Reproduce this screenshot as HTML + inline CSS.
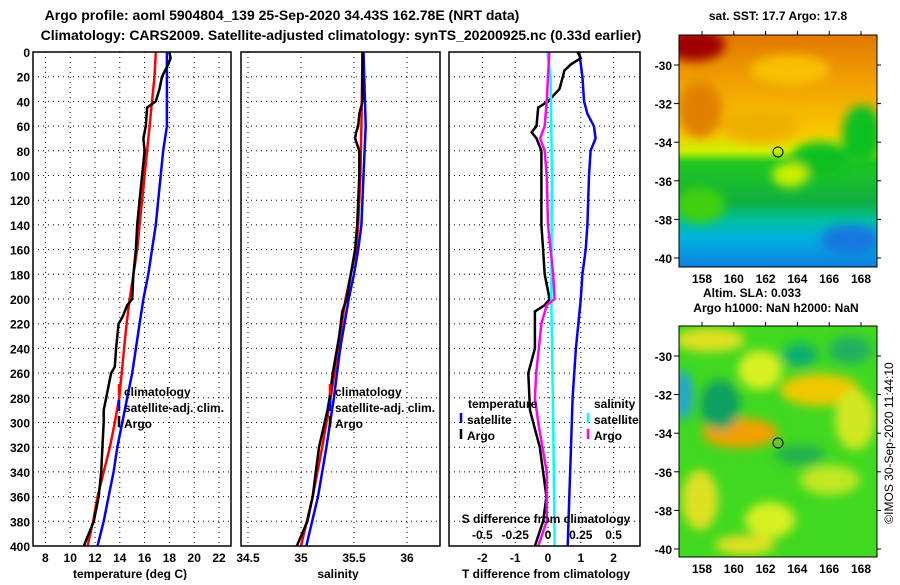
<!DOCTYPE html>
<html><head><meta charset="utf-8"><style>
body{margin:0;background:#fff;width:900px;height:580px;overflow:hidden}
svg text{font-family:"Liberation Sans",sans-serif;font-weight:bold;font-size:12px;fill:#000}
</style></head><body>
<svg id="c" width="900" height="580" xmlns="http://www.w3.org/2000/svg">
<defs>
<linearGradient id="sstg" x1="0" y1="0" x2="0" y2="1">
<stop offset="0" stop-color="#e07800"/><stop offset="0.2" stop-color="#f0a000"/><stop offset="0.42" stop-color="#f8c800"/><stop offset="0.5" stop-color="#d0f000"/><stop offset="0.55" stop-color="#20c820"/><stop offset="0.72" stop-color="#10b040"/><stop offset="0.8" stop-color="#00c0a0"/><stop offset="0.88" stop-color="#00b0e0"/><stop offset="1" stop-color="#1080e0"/>
</linearGradient>
<filter id="bl"><feGaussianBlur stdDeviation="5"/></filter>
<clipPath id="m1"><rect x="679" y="35" width="198" height="232"/></clipPath>
<clipPath id="m2"><rect x="679" y="326" width="198" height="231"/></clipPath>
</defs>
<g id="titles">
<text x="282" y="20" text-anchor="middle" style="font-size:14px">Argo profile: aoml 5904804_139 25-Sep-2020 34.43S 162.78E (NRT data)</text>
<text x="341" y="40" text-anchor="middle" style="font-size:14px">Climatology: CARS2009. Satellite-adjusted climatology: synTS_20200925.nc (0.33d earlier)</text>
<text x="778" y="20" text-anchor="middle">sat. SST: 17.7 Argo: 17.8</text>
<text x="752" y="297" text-anchor="middle">Altim. SLA: 0.033</text>
<text x="776" y="312" text-anchor="middle">Argo h1000: NaN h2000: NaN</text>
<text transform="translate(893,443) rotate(-90)" text-anchor="middle" style="font-weight:normal">©IMOS 30-Sep-2020 11:44:10</text>
</g>
<g id="maps">
<g clip-path="url(#m1)">
<rect x="679" y="35" width="198" height="232" fill="url(#sstg)"/>
<g filter="url(#bl)">
<ellipse cx="695" cy="45" rx="30" ry="16" fill="#a00000"/>
<ellipse cx="700" cy="110" rx="22" ry="28" fill="#e08000"/>
<ellipse cx="760" cy="125" rx="40" ry="18" fill="#f0b000"/>
<ellipse cx="790" cy="70" rx="40" ry="15" fill="#f8c000"/>
<ellipse cx="862" cy="135" rx="20" ry="30" fill="#10c020"/>
<ellipse cx="820" cy="160" rx="30" ry="18" fill="#10c020"/>
<ellipse cx="700" cy="205" rx="25" ry="18" fill="#40d010"/>
<ellipse cx="790" cy="175" rx="18" ry="12" fill="#c8f000"/>
<ellipse cx="850" cy="240" rx="30" ry="15" fill="#1878e0"/>
</g>
<circle cx="778" cy="152" r="5" fill="none" stroke="#000"/>
</g>
<rect x="679" y="35" width="198" height="232" fill="none" stroke="#000"/>
<g clip-path="url(#m2)">
<rect x="679" y="326" width="198" height="231" fill="#40d820"/>
<g filter="url(#bl)">
<ellipse cx="710" cy="340" rx="35" ry="12" fill="#e0e020"/>
<ellipse cx="760" cy="370" rx="22" ry="20" fill="#d8f020"/>
<ellipse cx="800" cy="355" rx="18" ry="12" fill="#10b070"/>
<ellipse cx="850" cy="350" rx="22" ry="14" fill="#20b060"/>
<ellipse cx="820" cy="390" rx="40" ry="16" fill="#f0c800"/>
<ellipse cx="740" cy="433" rx="38" ry="15" fill="#f0a000"/>
<ellipse cx="684" cy="395" rx="8" ry="25" fill="#20a0e0"/>
<ellipse cx="720" cy="405" rx="20" ry="25" fill="#10a060"/>
<ellipse cx="855" cy="420" rx="20" ry="30" fill="#d0e820"/>
<ellipse cx="700" cy="500" rx="18" ry="30" fill="#e0e020"/>
<ellipse cx="770" cy="520" rx="25" ry="18" fill="#d8f020"/>
<ellipse cx="830" cy="480" rx="30" ry="15" fill="#c0e820"/>
<ellipse cx="745" cy="545" rx="30" ry="10" fill="#e0e020"/>
<ellipse cx="800" cy="455" rx="25" ry="10" fill="#20b050"/>
</g>
<circle cx="778" cy="443" r="5" fill="none" stroke="#000"/>
</g>
<rect x="679" y="326" width="198" height="231" fill="none" stroke="#000"/>
</g>
<g id="plots"></g>
</svg>
<script>
// depth grid
const depthTicks=[0,20,40,60,80,100,120,140,160,180,200,220,240,260,280,300,320,340,360,380,400];
// temperature panel
const tTicks=[8,10,12,14,16,18,20,22];
const climDepth=[0,20,40,60,80,100,120,140,160,180,200,220,240,260,280,300,320,340,360,380,400];
const climTemp=[16.9,16.8,16.6,16.4,16.2,16.0,15.8,15.6,15.4,15.1,14.8,14.55,14.35,14.15,13.95,13.6,13.2,12.7,12.2,11.85,11.4];
const satDepth=[0,60,80,100,120,140,160,180,200,220,240,260,280,300,320,340,360,380,400];
const satTemp=[17.8,17.8,17.5,17.3,17.1,16.9,16.6,16.3,15.9,15.6,15.3,15.0,14.6,14.2,13.8,13.5,13.1,12.7,12.2];
const argoDepth=[0,5,10,20,30,40,45,60,70,80,100,120,140,160,180,200,205,215,220,240,255,260,280,290,300,320,340,360,380,390,400];
const argoTemp=[18.0,18.1,17.9,17.4,17.2,16.9,16.2,16.1,15.9,16.0,15.8,15.6,15.4,15.3,15.1,15.0,14.6,14.2,13.9,13.7,13.6,13.3,12.9,12.7,12.7,12.6,12.5,12.3,11.9,11.5,11.1];
// salinity panel
const sTicks=[34.5,35,35.5,36];
const sDepth=[0,60,100,140,160,180,200,240,280,320,360,400];
const climSal=[35.58,35.57,35.56,35.54,35.52,35.47,35.42,35.35,35.28,35.2,35.11,35.0];
const satSal=[35.59,35.61,35.59,35.57,35.54,35.50,35.45,35.37,35.31,35.24,35.16,35.05];
const argoSDepth=[0,40,50,60,65,70,75,80,100,140,160,180,200,210,230,260,280,290,320,340,360,380,400];
const argoSal=[35.58,35.58,35.55,35.54,35.52,35.51,35.53,35.55,35.55,35.53,35.51,35.47,35.43,35.39,35.36,35.3,35.27,35.25,35.17,35.14,35.11,35.06,34.96];
// difference panel
const dTTicks=[-2,-1,0,1,2];
const dSTicks=[-0.5,-0.25,0,0.25,0.5];
const dSTickLabels=["-0.5","-0.25","0","0.25","0.5"];
const satDTDepth=[0,10,20,40,50,60,70,80,100,140,160,180,200,240,280,320,360,400];
const satDT=[0.95,1.0,1.05,1.1,1.2,1.4,1.45,1.3,1.25,1.2,1.15,1.05,1.0,0.85,0.75,0.7,0.65,0.6];
const argoDTDepth=[0,5,10,15,20,30,40,45,60,65,70,80,100,140,160,180,200,205,210,240,260,290,300,320,340,360,380,400];
const argoDT=[0.9,1.0,0.7,0.5,0.45,0.35,0.0,-0.3,-0.35,-0.5,-0.35,-0.2,-0.2,-0.2,-0.15,-0.1,0.05,-0.1,-0.4,-0.4,-0.6,-0.55,-0.45,-0.25,-0.15,-0.05,-0.15,-0.4];
const satDSDepth=[0,20,100,200,300,400];
const satDS=[-0.005,0.02,0.03,0.025,0.04,0.05];
const argoDSDepth=[0,40,60,70,80,100,140,180,200,205,220,260,280,300,340,380,400];
const argoDS=[0.01,-0.01,-0.025,-0.06,-0.025,-0.01,0,0.04,0.05,-0.01,-0.05,-0.09,-0.1,-0.075,-0.01,-0.01,-0.075];

const NS='http://www.w3.org/2000/svg';
const root=document.getElementById('plots');
const Y0=52,Y1=546;
const yS=d=>Y0+d*(Y1-Y0)/400;
const xT=t=>33+(t-7)*12.4;
const xS=s=>301+(s-35)*106;
const xDT=t=>548+t*32.8;
const xDS=s=>548+s*4*32.8;
function el(tag,attrs,parent){const e=document.createElementNS(NS,tag);for(const k in attrs)e.setAttribute(k,attrs[k]);(parent||root).appendChild(e);return e;}
function txt(x,y,s,anchor,parent){const t=el('text',{x:x,y:y,'text-anchor':anchor||'start'},parent);t.textContent=s;return t;}
function line(depths,vals,xf,color,name,g){
  const pts=depths.map((d,i)=>xf(vals[i]).toFixed(1)+','+yS(d).toFixed(1)).join(' ');
  const p=el('polyline',{points:pts,fill:'none',stroke:color,'stroke-width':2.5},g);
  
  
}
function panel(x0,x1,ticks,xf,name){
  const g=el('g',{});
  
  
  ticks.forEach(t=>el('line',{x1:xf(t),x2:xf(t),y1:Y0,y2:Y1,stroke:'#000','stroke-dasharray':'1,4'},g));
  depthTicks.forEach(d=>el('line',{x1:x0,x2:x1,y1:yS(d),y2:yS(d),stroke:'#000','stroke-dasharray':'1,4'},g));
  return g;
}
// Panel 1
const g1=panel(33,231,tTicks,xT,'temperature-panel');
line(climDepth,climTemp,xT,'#f00','climatology-temp-line',g1);
line(satDepth,satTemp,xT,'#00f','satellite-temp-line',g1);
line(argoDepth,argoTemp,xT,'#000','argo-temp-line',g1);
el('rect',{x:33,y:Y0,width:198,height:Y1-Y0,fill:'none',stroke:'#000','stroke-width':1.5},g1);
depthTicks.forEach(d=>{const t=txt(30,yS(d)+5,String(d),'end',g1);});
tTicks.forEach(v=>{const t=txt(xT(v),562,String(v),'middle',g1);});
txt(130,578,'temperature (deg C)','middle',g1);
// Panel 2
const g2=panel(241,440,sTicks,xS,'salinity-panel');
line(sDepth,climSal,xS,'#f00','climatology-sal-line',g2);
line(sDepth,satSal,xS,'#00f','satellite-sal-line',g2);
line(argoSDepth,argoSal,xS,'#000','argo-sal-line',g2);
el('rect',{x:241,y:Y0,width:199,height:Y1-Y0,fill:'none',stroke:'#000','stroke-width':1.5},g2);
sTicks.forEach(v=>{const t=txt(xS(v),562,String(v),'middle',g2);});
txt(338,578,'salinity','middle',g2);
// legends for panels 1 & 2
[[g1,120],[g2,331]].forEach(([g,lx])=>{
  const lg=el('g',{},g);
  
  
  [['climatology','#f00',396],['satellite-adj. clim.','#00f',412],['Argo','#000',428]].forEach(([s,c,y])=>{
    el('line',{x1:lx-1,x2:lx-1,y1:y-12,y2:y-1,stroke:c,'stroke-width':2.5},lg);
    const t=txt(lx+4,y,s,'start',lg);
  });
});
// Panel 3
const g3=panel(449,640,dTTicks,xDT,'difference-panel');
line(satDTDepth,satDT,xDT,'#00f','satellite-tdiff-line',g3);
line(argoDTDepth,argoDT,xDT,'#000','argo-tdiff-line',g3);
line(satDSDepth,satDS,xDS,'#0ff','satellite-sdiff-line',g3);
line(argoDSDepth,argoDS,xDS,'#f0f','argo-sdiff-line',g3);
el('rect',{x:449,y:Y0,width:191,height:Y1-Y0,fill:'none',stroke:'#000','stroke-width':1.5},g3);
dTTicks.forEach(v=>{const t=txt(xDT(v),562,String(v),'middle',g3);});
dSTicks.forEach((v,i)=>{const t=txt(xDS(v),539,dSTickLabels[i],'middle',g3);});
txt(546,523,'S difference from climatology','middle',g3);
txt(546,578,'T difference from climatology','middle',g3);
const lg3=el('g',{},g3);


txt(468,408,'temperature','start',lg3);
txt(594,408,'salinity','start',lg3);
[['satellite','#00f','#0ff',424],['Argo','#000','#f0f',440]].forEach(([s,c1,c2,y])=>{
  el('line',{x1:461,x2:461,y1:y-11,y2:y-1,stroke:c1,'stroke-width':2.5},lg3);
  txt(467,y,s,'start',lg3);
  el('line',{x1:588,x2:588,y1:y-11,y2:y-1,stroke:c2,'stroke-width':2.5},lg3);
  txt(594,y,s,'start',lg3);
});
// map axes
const mapG=el('g',{});


const lonTicks=[158,160,162,164,166,168];
const latTicks=[-30,-32,-34,-36,-38,-40];
const lonX=l=>702+(l-158)*15.9;
[[35,267,65,19.3],[326,557,356,19.3]].forEach(([top,bot,y30,k])=>{
  lonTicks.forEach(l=>{el('line',{x1:lonX(l),x2:lonX(l),y1:top-4,y2:top},mapG);
    txt(lonX(l),bot+16,String(l),'middle',mapG);});
  latTicks.forEach(a=>{const y=y30+(-30-a)*k;el('line',{x1:674,x2:679,y1:y,y2:y},mapG);el('line',{x1:877,x2:881,y1:y,y2:y},mapG);
    txt(672,y+5,String(a),'end',mapG);});
});
mapG.querySelectorAll('line').forEach(l=>l.setAttribute('stroke','#000'));
</script>
</body></html>
